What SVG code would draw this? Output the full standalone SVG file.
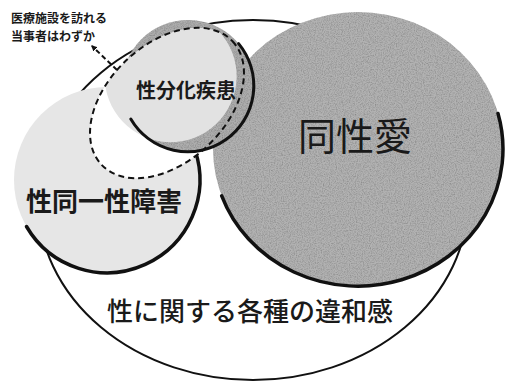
<svg xmlns="http://www.w3.org/2000/svg" width="506" height="381" viewBox="0 0 506 381">
<style>
text{font-family:"Noto Sans CJK JP","Noto Sans CJK SC",sans-serif;fill:#1a1a1a}
.edge{fill:none;stroke:#111;stroke-linecap:round}
.lbl{font-weight:700}
</style>
<defs>
<marker id="ah" viewBox="0 0 10 10" refX="8" refY="5" markerWidth="6" markerHeight="6" orient="auto-start-reverse" markerUnits="userSpaceOnUse">
<path d="M0,0 L10,5 L0,10 z" fill="#111"/>
</marker>
<clipPath id="dsdclip"><circle cx="188" cy="86" r="66"/></clipPath>
<filter id="grain" x="0" y="0" width="1" height="1">
<feTurbulence type="fractalNoise" baseFrequency="0.85" numOctaves="2" seed="4" result="n"/>
<feColorMatrix in="n" type="matrix" values="0 0 0 0 0  0 0 0 0 0  0 0 0 0 0  0 0 0 -0.8 0.5" result="a"/>
<feComposite in="a" in2="SourceGraphic" operator="in" result="g"/>
<feMerge><feMergeNode in="SourceGraphic"/><feMergeNode in="g"/></feMerge>
</filter>
</defs>
<rect width="506" height="381" fill="#fff"/>
<g id="outer">
<ellipse cx="253" cy="200" rx="215" ry="180" fill="#fff" stroke="#111" stroke-width="2"/>
<text x="250" y="321" font-size="26" text-anchor="middle" font-weight="500">性に関する各種の違和感</text>
</g>
<g id="gid">
<circle cx="107" cy="180" r="93" fill="#e6e6e6"/>
<path class="edge" d="M195,150 A93,93 0 0 1 26.5,226.5" stroke-width="3.5"/>
</g>
<g id="homo">
<ellipse cx="358" cy="149" rx="145" ry="137" fill="#b2b2b2" filter="url(#grain)"/>
<path class="edge" d="M498,113.5 A145,137 0 0 1 221.7,195.9" stroke-width="3.5"/>
<text x="355" y="150" font-size="38" text-anchor="middle" font-weight="400">同性愛</text>
</g>
<g id="clinic">
<ellipse cx="167" cy="103" rx="90" ry="59" transform="rotate(-43.3 167 103)" fill="#fff"/>
</g>
<g id="dsd">
<circle cx="188" cy="86" r="66" fill="#adadad" filter="url(#grain)"/>
<ellipse cx="167" cy="103" rx="90" ry="59" transform="rotate(-43.3 167 103)" fill="#e2e2e2" clip-path="url(#dsdclip)"/>
<path class="edge" d="M238.6,43.6 A66,66 0 1 1 130.8,119" stroke-width="3"/>
<text class="lbl" x="186" y="98" font-size="20" text-anchor="middle">性分化疾患</text>
</g>
<g id="connectors">
<ellipse cx="167" cy="103" rx="90" ry="59" transform="rotate(-43.3 167 103)" fill="none" stroke="#111" stroke-width="2" stroke-dasharray="6 4"/>
<line x1="117" y1="70" x2="92" y2="46" stroke="#111" stroke-width="2" stroke-dasharray="5 3" marker-end="url(#ah)"/>
</g>
<g id="gidlabel">
<text class="lbl" x="104" y="211" font-size="26" text-anchor="middle">性同一性障害</text>
</g>
<g id="note">
<text class="lbl" x="11" y="23" font-size="12">医療施設を訪れる</text>
<text class="lbl" x="11" y="41" font-size="12">当事者はわずか</text>
</g>
</svg>
